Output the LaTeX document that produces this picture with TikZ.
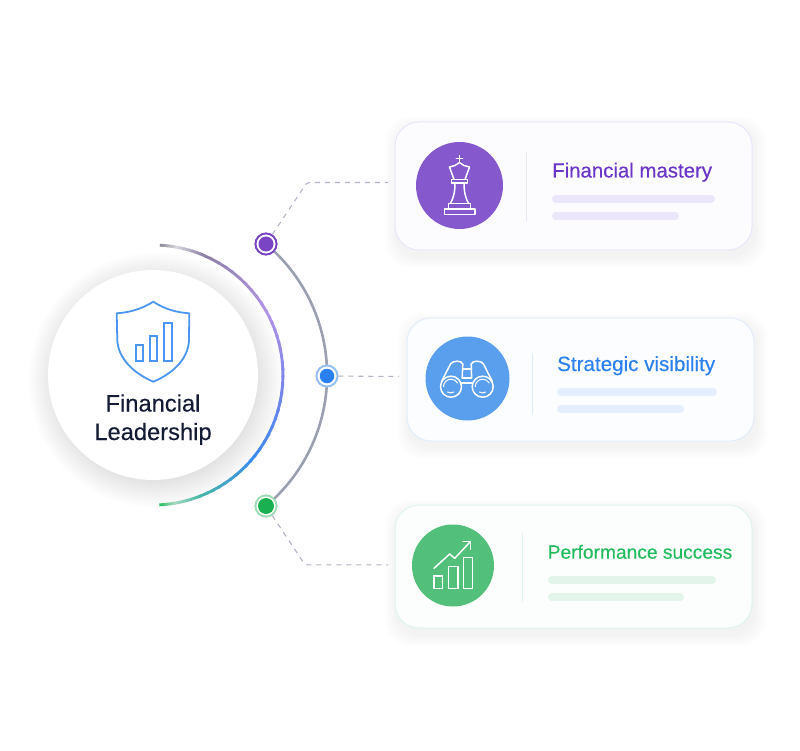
\documentclass[tikz,border=0pt]{standalone}
\usepackage{fontspec}
\setmainfont[FakeBold=0.25]{Liberation Sans}
\definecolor{ink}{HTML}{141B34}
\definecolor{pu}{HTML}{6A35C8}\definecolor{puf}{HTML}{8558CE}\definecolor{pub}{HTML}{ECE6FB}\definecolor{pue}{HTML}{E9E5FB}\definecolor{pud}{HTML}{7A45C4}
\definecolor{bl}{HTML}{2A80EE}\definecolor{blf}{HTML}{5A9EEE}\definecolor{blb}{HTML}{E4EEFC}\definecolor{ble}{HTML}{E2EDFB}\definecolor{bld}{HTML}{2A80F0}
\definecolor{gr}{HTML}{22BC5F}\definecolor{grf}{HTML}{52C07A}\definecolor{grb}{HTML}{E3F5EA}\definecolor{gre}{HTML}{E0F5E9}\definecolor{grd}{HTML}{18B050}
\definecolor{arcgrey}{HTML}{9AA0B0}\definecolor{dashgrey}{HTML}{B0B4C6}\definecolor{softblue}{HTML}{5068B0}\definecolor{shieldblue}{HTML}{4A96F0}
\definecolor{ga}{HTML}{8A8A96}\definecolor{gb}{HTML}{D8D8DE}\definecolor{gc}{HTML}{8F82A8}\definecolor{gd}{HTML}{B394E8}
\definecolor{ge}{HTML}{7F84E8}\definecolor{gf}{HTML}{3B8BF0}\definecolor{gg}{HTML}{48B8A8}\definecolor{gh}{HTML}{A8D8C0}\definecolor{gi}{HTML}{1FBF5F}
\tikzset{
 x=1pt,y=-1pt,
 cardbox/.style={draw=#1,line width=1pt,rounded corners=24pt,inner sep=0pt},
 iconline/.style={draw=white,line width=1.5pt,line join=round,line cap=round},
 ibadge/.style={circle,inner sep=0pt,fill=#1},
 titletext/.style={anchor=base west,inner sep=0pt},
 hubtext/.style={anchor=base,inner sep=0pt,text=ink,font=\fontsize{23.7}{26}\selectfont},
 barline/.style={line width=8pt,line cap=round,draw=#1},
 dividerline/.style={line width=1pt,draw=#1},
 dashlink/.style={dash pattern=on 5pt off 5pt,line width=1.1pt,draw=dashgrey,rounded corners=2pt},
 dotring/.style={circle,inner sep=0pt,minimum size=21pt,fill=white,draw=#1,line width=1.8pt},
 dotcore/.style={circle,inner sep=0pt,fill=#1},
}
\newcommand{\softcard}[5]{% x0 y0 x1 y1 colour
 \foreach \k in {1,...,12}{
  \fill[#5,opacity=.0035,rounded corners=24pt]
   ({#1+2-\k},{#2+6-\k}) rectangle ({#3+2+\k},{#4+6+\k});}}
\newcommand{\cardat}[6]{% name x0 y0 x1 y1 edge
 \node[cardbox=#6,fill=#6!12!white,minimum width={(#4-#2)*1pt},minimum height={(#5-#3)*1pt}] (#1) at ({(#2+#4)/2},{(#3+#5)/2}) {};}
\newcommand{\gradseg}[4]{% a0 a1 c0 c1
 \foreach \s in {0,...,9}{
  \pgfmathsetmacro{\pct}{\s*10}
  \pgfmathsetmacro{\aa}{#1+(#2-#1)*\s/10}
  \pgfmathsetmacro{\ab}{#1+(#2-#1)*(\s+1.3)/10}
  \draw[line width=2.9pt,color=#4!\pct!#3]
   ({153+130*cos(\aa)},{375-130*sin(\aa)}) -- ({153+130*cos(\ab)},{375-130*sin(\ab)});}}
\begin{document}
\begin{tikzpicture}
\useasboundingbox (0,0) rectangle (800,751);
\fill[white] (0,0) rectangle (800,751);

% hub shadow
\foreach \k in {1,...,30}{\fill[softblue,opacity=.0055] (156,380) circle ({98+\k});}

% gradient arc
\gradseg{87}{80}{ga}{gb}
\gradseg{80}{68}{gb}{gc}
\gradseg{68}{30}{gc}{gd}
\gradseg{30}{0}{gd}{ge}
\gradseg{0}{-38}{ge}{gf}
\gradseg{-38}{-68}{gf}{gg}
\gradseg{-68}{-80}{gg}{gh}
\gradseg{-80}{-87}{gh}{gi}

% hub
\node[circle,fill=white,inner sep=0pt,minimum size=210pt] (hub) at (153,375) {};
\draw[shieldblue,line width=1.8pt,line join=round]
 (153.3,301.7) .. controls (140,310) and (128,312.5) .. (116.7,313.3)
 -- (117.3,340) .. controls (118,358) and (133,373) .. (153.3,381.7)
 .. controls (174,373) and (188.5,358) .. (189,340) -- (189.3,313.3)
 .. controls (178,312.5) and (166,310) .. (153.3,301.7) -- cycle;
\draw[shieldblue,line width=1.8pt,line join=miter]
 (135.7,345) rectangle (143.3,360.7) (150,336) rectangle (157.3,360.7) (164,323.3) rectangle (171.7,360.7);
\node[hubtext] (hubA) at (153,411.5) {Financial};
\node[hubtext] (hubB) at (153,440) {Leadership};

% dots
\node[dotring=pud] (dot1) at (266,244) {};
\node[dotring=blf!65!white] (dot2) at (327,376) {};
\node[dotring=grf!55!white] (dot3) at (266,506) {};
\coordinate (bend1) at (307,182.5);
\coordinate (end1) at (388,182.5);
\coordinate (end2) at (399,376.5);
\coordinate (bend3) at (305,564.8);
\coordinate (end3) at (388,564.8);

% connectors
\draw[arcgrey,line width=2.6pt] (dot1.center) arc[start angle=-50,end angle=50,radius=171];
\draw[dashlink] (dot1) -- (bend1) -- (end1);
\draw[dashlink] (dot2) -- (end2);
\draw[dashlink] (dot3) -- (bend3) -- (end3);
\node[dotring=pud] at (dot1) {};
\node[dotcore=pud,minimum size=15pt] at (dot1) {};
\node[dotring=blf!65!white] at (dot2) {};
\node[dotcore=bld,minimum size=14.5pt] at (dot2) {};
\node[dotring=grf!55!white] at (dot3) {};
\node[dotcore=grd,minimum size=16pt] at (dot3) {};

% card 1
\softcard{395}{122}{752}{250}{pu}
\cardat{card1}{395}{122}{752}{250}{pue}
\node[ibadge=puf,minimum size=87pt] (badge1) at (459.5,185.5) {};
\draw[dividerline=pue] (526,152) -- (526,221);
\node[titletext,text=pu,font=\fontsize{20.4}{22}\selectfont] (title1) at (552,177.5) {Financial mastery};
\draw[barline=pub] (556,199) -- (711,199);
\draw[barline=pub] (556,216) -- (675,216);
% king
\draw[iconline] (444.5,208.8) rectangle (475,214.7);
\draw[iconline] (448.5,208.8) -- (448.5,203.3) -- (470.5,203.3) -- (470.5,208.8);
\draw[iconline] (450.5,203.3) .. controls (453.5,198) and (455,192) .. (455,183)
 (468.5,203.3) .. controls (465.5,198) and (464,192) .. (464,183);
\draw[iconline] (451.5,179.5) rectangle (467.5,183);
\draw[iconline] (454,179.5) -- (449.5,167) -- (455,165.5) -- (459.5,162.5) -- (464,165.5) -- (469.5,167) -- (465,179.5);
\draw[iconline] (459.5,162.5) -- (459.5,155.5) (456.3,158.5) -- (462.7,158.5);

% card 2
\softcard{407}{318}{754}{441}{bl}
\cardat{card2}{407}{318}{754}{441}{ble}
\node[ibadge=blf,minimum size=84pt] (badge2) at (467.5,378.5) {};
\draw[dividerline=ble] (532,354) -- (532,414);
\node[titletext,text=bl,font=\fontsize{20.6}{22}\selectfont] (title2) at (557,371) {Strategic visibility};
\draw[barline=blb] (561,392) -- (713,392);
\draw[barline=blb] (561,409) -- (680,409);
% binoculars
\draw[iconline] (451,386.7) circle (10.5) (482.7,386.7) circle (10.5);
\draw[iconline,line width=1pt] (443.5,386.7) arc[start angle=180,end angle=330,radius=7.5]
 (475.2,386.7) arc[start angle=180,end angle=330,radius=7.5];
\draw[iconline,line width=1pt] (447.5,392) arc[start angle=120,end angle=60,radius=6.5]
 (479.2,392) arc[start angle=120,end angle=60,radius=6.5];
\draw[iconline] (441.5,381.5) -- (450.5,364) .. controls (452.5,360.5) and (461.5,360) .. (462.8,364) -- (462.2,378);
\draw[iconline] (492.3,381.5) -- (483.5,364) .. controls (481.5,360.5) and (472.5,360) .. (471.2,364) -- (471.6,378);
\draw[iconline] (462.5,369) -- (471.5,369) (462.3,378) -- (471.5,378) (461.5,383) -- (472.2,383);

% card 3
\softcard{395}{505}{752}{628}{gr}
\cardat{card3}{395}{505}{752}{628}{gre}
\node[ibadge=grf,minimum size=82pt] (badge3) at (453,565.5) {};
\draw[dividerline=gre] (522.5,533) -- (522.5,602);
\node[titletext,text=gr,font=\fontsize{19.2}{22}\selectfont] (title3) at (547.5,558.7) {Performance success};
\draw[barline=grb] (552,580) -- (712,580);
\draw[barline=grb] (552,597) -- (680,597);
% chart
\draw[iconline,line join=miter] (434,576) rectangle (442.3,588.3) (448.7,566.7) rectangle (458,588.3) (463.7,557.3) rectangle (472.3,588.3);
\draw[iconline] (434,568.3) -- (449.7,554) -- (454.7,558.3) -- (470.3,541.7);
\draw[iconline] (463,541.7) -- (470.3,541.7) -- (470.3,549.3);
\end{tikzpicture}
\end{document}
